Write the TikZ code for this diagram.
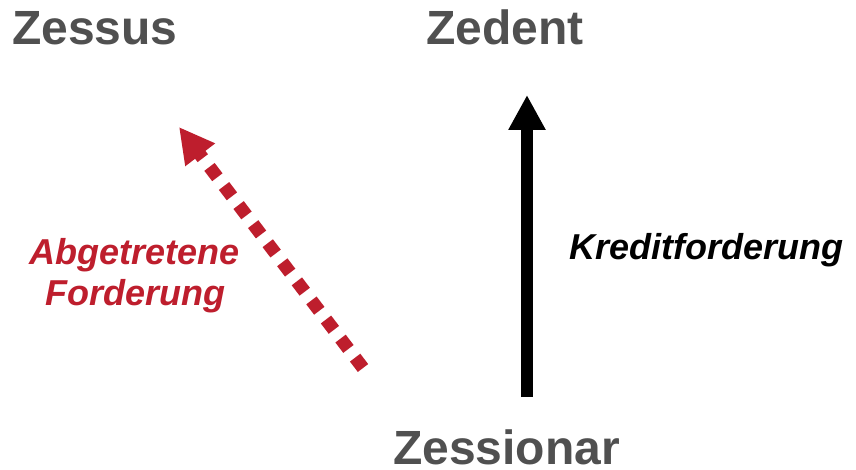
\documentclass[tikz,border=0pt]{standalone}
\usepackage{fontspec}
\setmainfont{Liberation Sans}
\usetikzlibrary{arrows.meta}
\definecolor{txtgray}{RGB}{80,80,80}
\definecolor{zred}{RGB}{190,30,45}
\begin{document}
\begin{tikzpicture}[x=1pt,y=-1pt,
  title/.style={font=\fontsize{48}{58}\selectfont\bfseries, text=txtgray, inner sep=0pt, anchor=base west},
  lbl/.style={font=\fontsize{36}{40}\selectfont\bfseries\itshape, inner sep=0pt},
  bigarrow/.style={line width=12pt, -{Triangle[length=35pt,width=35pt]}},
  ]
\useasboundingbox[fill=white] (0,0) rectangle (856,470);
\node[title] (zessus) at (12,45) {Zessus};
\node[title] (zedent) at (426,45) {Zedent};
\node[title] (zessionar) at (393,464) {Zessionar};
\node[lbl, text=zred, align=center, anchor=base] (abg) at (135,305) {Abgetretene\\Forderung};
\node[lbl, text=black, anchor=base west] (kred) at (569,260) {Kreditforderung};
\coordinate (kb) at (527,397);
\coordinate (kt) at (527,95);
\coordinate (rb) at (363,368);
\coordinate (rt) at (179,127);
\draw[bigarrow, black] (kb) -- (kt);
\draw[bigarrow, zred, line width=13pt, dash pattern=on 13pt off 11pt] (rb) -- (rt);
\end{tikzpicture}
\end{document}
